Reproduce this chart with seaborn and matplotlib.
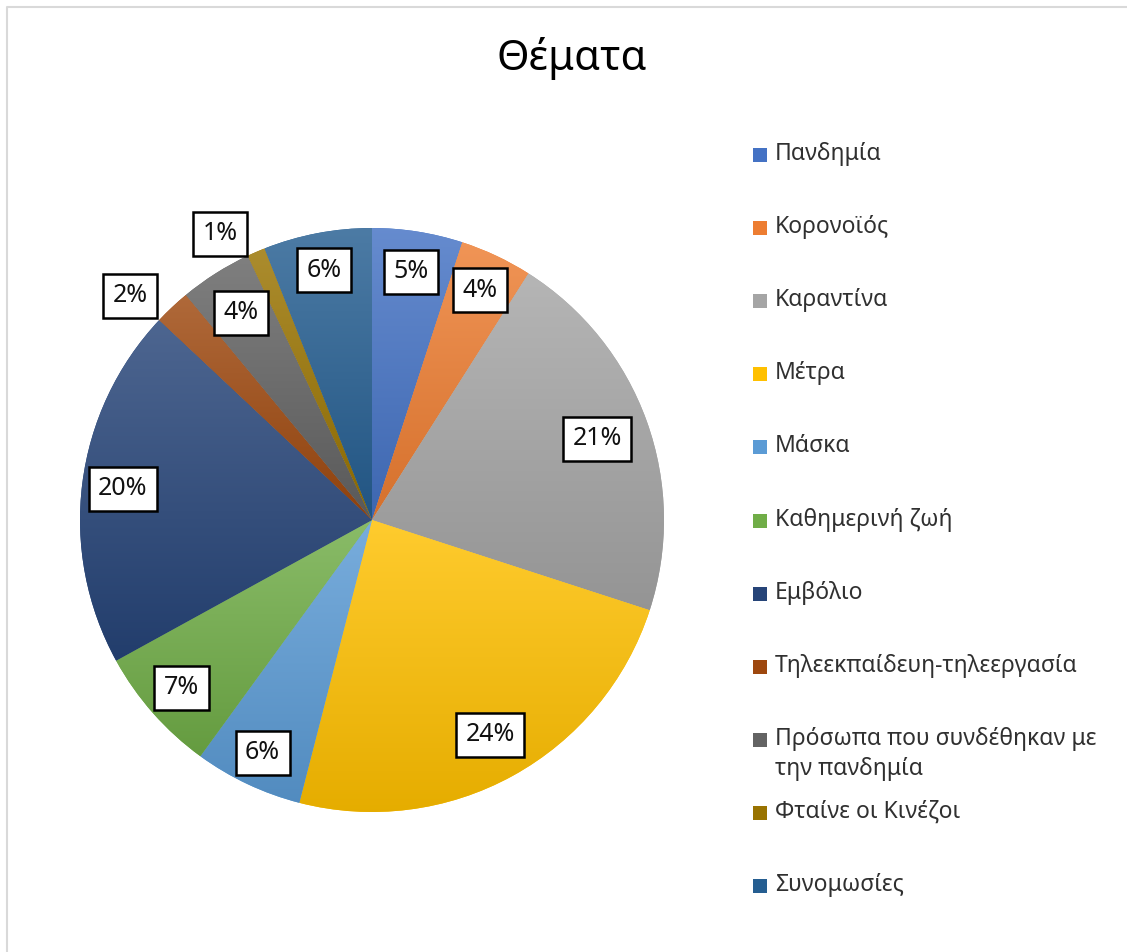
import numpy as np
import matplotlib.pyplot as plt
import matplotlib.colors as mcolors
from matplotlib.patches import Rectangle
from matplotlib.lines import Line2D
import seaborn as sns

# datos
temas = ['Πανδημία', 'Κορονοϊός', 'Καραντίνα', 'Μέτρα', 'Μάσκα', 'Καθημερινή ζωή',
         'Εμβόλιο', 'Τηλεεκπαίδευη-τηλεεργασία', 'Πρόσωπα που συνδέθηκαν με\nτην πανδημία',
         'Φταίνε οι Κινέζοι', 'Συνομωσίες']
valores = [5, 4, 21, 24, 6, 7, 20, 2, 4, 1, 6]
colores = ['#4472C4', '#ED7D31', '#A5A5A5', '#FFC000', '#5B9BD5', '#70AD47',
           '#264478', '#9E480E', '#636363', '#997300', '#255E91']
# distancia de las etiquetas (fraccion del radio) y corrimiento angular
label_dist = [0.86, 0.87, 0.82, 0.84, 0.88, 0.87, 0.86, 1.13, 0.84, 1.11, 0.87]
label_shift = [0, 0, 0, 0, 0, 0, 0, 4, 0, 4.5, 0]

sns.set_theme(style='white')
plt.rcParams['font.family'] = ['Noto Sans', 'DejaVu Sans']

W, H = 1127, 952
fig = plt.figure(figsize=(W / 100, H / 100), dpi=100)
fig.patch.set_facecolor('white')

# pie centrado en (372, 520) px con radio 292 px
cx, cy, R = 372, 520, 292
ax = fig.add_axes([(cx - R) / W, (H - cy - R) / H, 2 * R / W, 2 * R / H])
pal = sns.color_palette(colores)
wedges, _ = ax.pie(valores, colors=pal, startangle=90, counterclock=False,
                   wedgeprops=dict(linewidth=0))
ax.set_aspect('equal')
ax.axis('off')

# gradiente vertical en cada porcion (como Excel)
for w, c in zip(wedges, colores):
    base = np.array(mcolors.to_rgb(c))
    top = base + (1 - base) * 0.18
    bot = base * 0.90
    t = np.linspace(0, 1, 128)[:, None]
    grad = top * (1 - t) + bot * t
    img = grad[:, None, :]
    ext = w.get_path().get_extents()
    im = ax.imshow(img, extent=[ext.x0, ext.x1, ext.y0, ext.y1], origin='upper',
                   aspect='auto', interpolation='bilinear', zorder=w.get_zorder() + 0.1)
    im.set_clip_path(w)
ax.set_xlim(-1, 1)
ax.set_ylim(-1, 1)

# etiquetas de porcentaje
total = sum(valores)
for w, v, d, s in zip(wedges, valores, label_dist, label_shift):
    ang = np.deg2rad((w.theta1 + w.theta2) / 2 + s)
    ax.text(d * np.cos(ang), d * np.sin(ang), f'{round(100 * v / total)}%',
            ha='center', va='center', fontsize=18, color='#111111', zorder=10,
            bbox=dict(boxstyle='square,pad=0.38', fc='white', ec='black', lw=1.8))

# titulo
fig.text(572 / W, 1 - 58 / H, 'Θέματα', fontsize=30, ha='center', va='center', color='black')

# leyenda manual
y0, paso = 155, 73.1
for i, (lab, c) in enumerate(zip(temas, colores)):
    yp = y0 + i * paso
    fig.patches.append(Rectangle((753 / W, 1 - (yp + 7) / H), 14 / W, 14 / H,
                                 transform=fig.transFigure, fc=c, ec='none'))
    fig.text(775 / W, 1 - (yp - 13) / H, lab, fontsize=16.5, ha='left', va='top',
             color='#303030', linespacing=1.35)

# borde del grafico
fig.lines.append(Line2D([7 / W, 7 / W, 1], [0, 1 - 7 / H, 1 - 7 / H],
                        transform=fig.transFigure, color='#d9d9d9', lw=1.5))

plt.savefig('out.png', dpi=100)
